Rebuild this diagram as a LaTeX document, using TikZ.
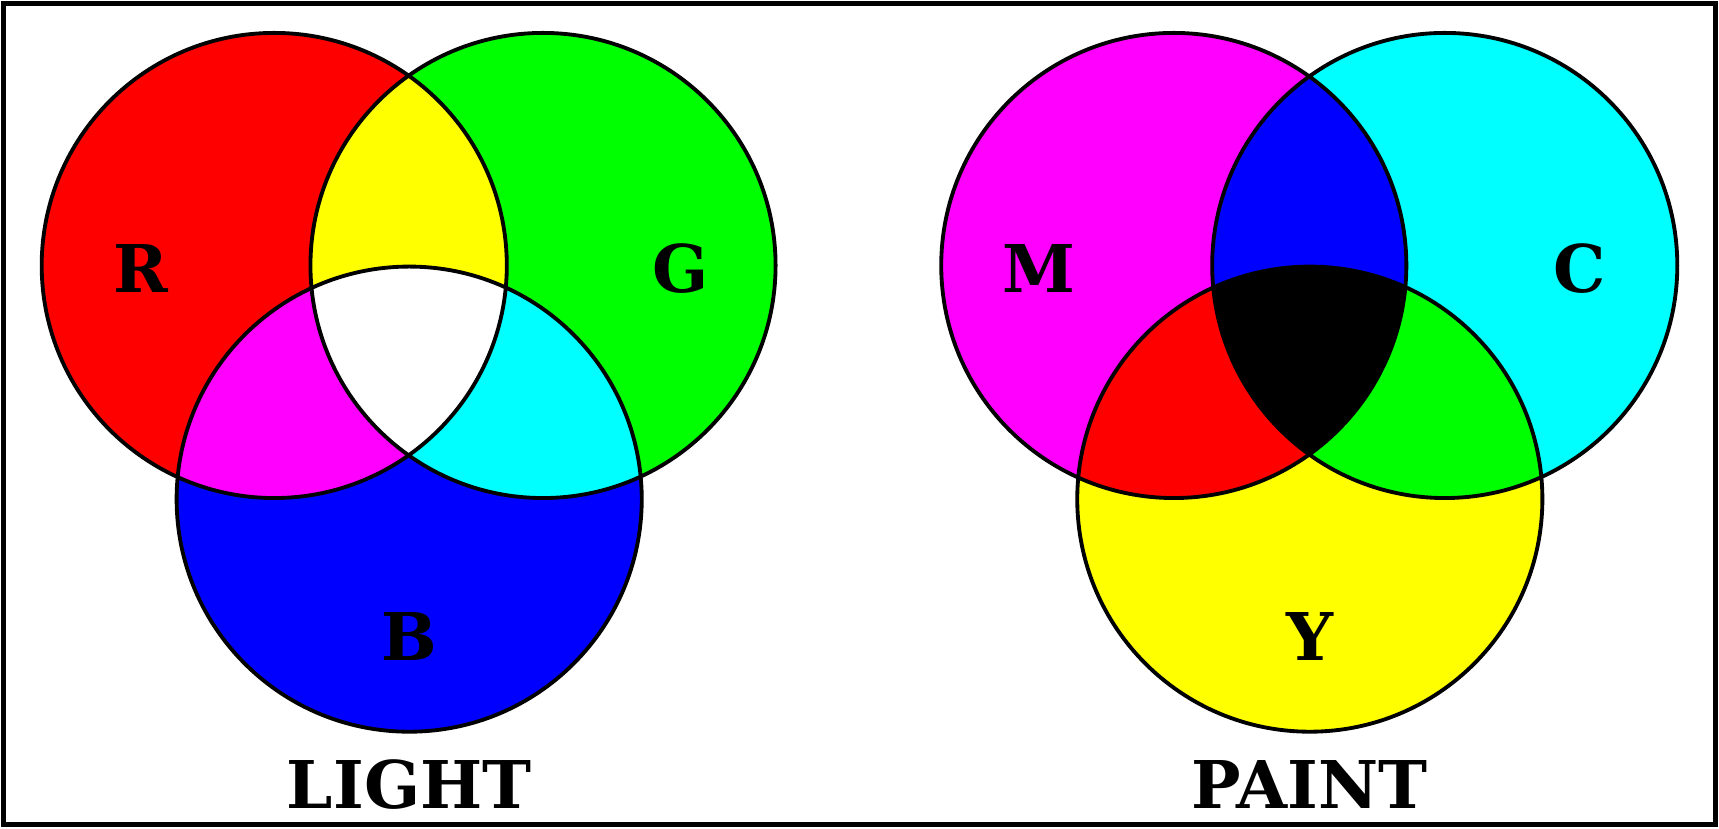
\documentclass[tikz,border=0pt]{standalone}
\usepackage{fontspec}
\setmainfont{DejaVu Serif}
\definecolor{pr}{RGB}{255,0,0}\definecolor{pg}{RGB}{0,255,0}\definecolor{pb}{RGB}{0,0,255}
\definecolor{pc}{RGB}{0,255,255}\definecolor{pm}{RGB}{255,0,255}\definecolor{py}{RGB}{255,255,0}
\begin{document}
\begin{tikzpicture}[x=1pt,y=-1pt,
  lbl/.style={font=\fontsize{60}{64}\selectfont\bfseries},
  ring/.style={draw=black,line width=3.5pt}]
\useasboundingbox (0,0) rectangle (1567,755);
\fill[white] (0,0) rectangle (1567,755);
\draw[line width=4.5pt] (3,3) rectangle (1564,752);
\def\r{212}
% LIGHT
\coordinate (R) at (250,242); \coordinate (G) at (495,242); \coordinate (B) at (373,455);
\fill[pr] (R) circle (\r); \fill[pg] (G) circle (\r); \fill[pb] (B) circle (\r);
\begin{scope}\clip (R) circle (\r); \fill[py] (G) circle (\r); \fill[pm] (B) circle (\r);
  \clip (G) circle (\r); \fill[white] (B) circle (\r); \end{scope}
\begin{scope}\clip (G) circle (\r); \begin{scope}\clip (B) circle (\r);
  \fill[pc] (G) circle (\r); \begin{scope}\clip (R) circle (\r); \fill[white] (B) circle (\r);\end{scope}\end{scope}\end{scope}
\draw[ring] (R) circle (\r) (G) circle (\r) (B) circle (\r);
% PAINT
\coordinate (M) at (1070,242); \coordinate (C) at (1317,242); \coordinate (Y) at (1194,455);
\fill[pm] (M) circle (\r); \fill[pc] (C) circle (\r); \fill[py] (Y) circle (\r);
\begin{scope}\clip (M) circle (\r); \fill[pb] (C) circle (\r); \fill[pr] (Y) circle (\r);
  \clip (C) circle (\r); \fill[black] (Y) circle (\r); \end{scope}
\begin{scope}\clip (C) circle (\r); \begin{scope}\clip (Y) circle (\r);
  \fill[pg] (C) circle (\r); \begin{scope}\clip (M) circle (\r); \fill[black] (Y) circle (\r);\end{scope}\end{scope}\end{scope}
\draw[ring] (M) circle (\r) (C) circle (\r) (Y) circle (\r);
% labels
\node[lbl] (lr) at (128,245) {R};
\node[lbl] (lg) at (620,245) {G};
\node[lbl] (lb) at (373,580) {B};
\node[lbl] (light) at (373,715) {LIGHT};
\node[lbl] (lm) at (947,245) {M};
\node[lbl] (lc) at (1440,245) {C};
\node[lbl] (ly) at (1194,580) {Y};
\node[lbl] (paint) at (1194,715) {PAINT};
\end{tikzpicture}
\end{document}
